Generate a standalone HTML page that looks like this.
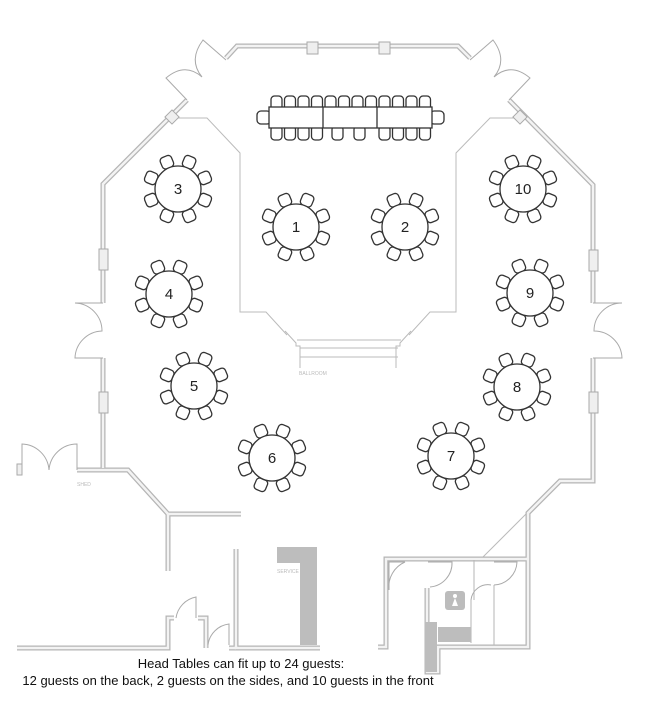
<!DOCTYPE html>
<html><head><meta charset="utf-8"><style>
html,body{margin:0;padding:0;background:#fff;}
svg{display:block;}
text{font-family:"Liberation Sans",sans-serif;}
</style></head><body>
<svg width="653" height="708" viewBox="0 0 653 708" xmlns="http://www.w3.org/2000/svg">
<defs>
<g id="tb">
  <g fill="#fff" stroke="#333" stroke-width="1.3">
    <rect x="-6" y="-35" width="12" height="12" rx="3.5" transform="rotate(22.5)"/>
    <rect x="-6" y="-35" width="12" height="12" rx="3.5" transform="rotate(67.5)"/>
    <rect x="-6" y="-35" width="12" height="12" rx="3.5" transform="rotate(112.5)"/>
    <rect x="-6" y="-35" width="12" height="12" rx="3.5" transform="rotate(157.5)"/>
    <rect x="-6" y="-35" width="12" height="12" rx="3.5" transform="rotate(202.5)"/>
    <rect x="-6" y="-35" width="12" height="12" rx="3.5" transform="rotate(247.5)"/>
    <rect x="-6" y="-35" width="12" height="12" rx="3.5" transform="rotate(292.5)"/>
    <rect x="-6" y="-35" width="12" height="12" rx="3.5" transform="rotate(337.5)"/>
  </g>
  <circle r="23" fill="#fff" stroke="#333" stroke-width="1.3"/>
</g>
<rect id="ch" x="0" y="0" width="11" height="14" rx="3.5" fill="#fff" stroke="#333" stroke-width="1.3"/>
</defs>

<!-- inner ballroom thin lines -->
<g fill="none" stroke="#bbb" stroke-width="1">
  <polyline points="178,118 207,118 240,153 240,312 266,312 287,335"/>
  <polyline points="517,118 490,118 456,153 456,312 430,312 409,335"/>
  <line x1="297" y1="340" x2="401" y2="340"/>
  <line x1="300" y1="348" x2="398" y2="348"/>
  <line x1="300" y1="357" x2="398" y2="357"/>
  <polyline points="285,331 296,343 296,346 300,346 300,368"/>
  <polyline points="411,331 400,343 400,346 396,346 396,368"/>
  <line x1="527" y1="513" x2="483" y2="557"/>
</g>

<!-- walls: double lines -->
<g fill="none" stroke-linejoin="miter">
  <g stroke="#b5b5b5" stroke-width="5">
    <polyline points="226,58 237,46 458,46 470,58"/>
    <polyline points="187,100 103,184 103,303"/>
    <polyline points="103,358 103,468"/>
    <polyline points="77,470 128,470 168,514 241,514"/>
    <polyline points="168,514 168,571"/>
    <polyline points="509,100 593,185 593,303"/>
    <polyline points="593,358 593,481 560,481 528,513 528,647 438,647 438,672 427,672 427,588"/>
    <polyline points="428,559 528,559"/>
    <polyline points="378,647 386,647 386,559 428,559"/>
    <polyline points="17,648 168,648 168,618 174,618"/>
    <polyline points="198,618 206,618 206,648"/>
    <polyline points="236,549 236,648 320,648"/>
    <polyline points="229,648 236,648"/>
  </g>
  <g stroke="#f3f3f3" stroke-width="2.5">
    <polyline points="226,58 237,46 458,46 470,58"/>
    <polyline points="187,100 103,184 103,303"/>
    <polyline points="103,358 103,468"/>
    <polyline points="77,470 128,470 168,514 241,514"/>
    <polyline points="168,514 168,571"/>
    <polyline points="509,100 593,185 593,303"/>
    <polyline points="593,358 593,481 560,481 528,513 528,647 438,647 438,672 427,672 427,588"/>
    <polyline points="428,559 528,559"/>
    <polyline points="378,647 386,647 386,559 428,559"/>
    <polyline points="17,648 168,648 168,618 174,618"/>
    <polyline points="198,618 206,618 206,648"/>
    <polyline points="236,549 236,648 320,648"/>
    <polyline points="229,648 236,648"/>
  </g>
  <g stroke="#b5b5b5" stroke-width="1">
    <line x1="494" y1="585" x2="494" y2="645"/>
    <line x1="471" y1="643" x2="471" y2="600"/>
    <line x1="474" y1="560" x2="474" y2="600"/>
  </g>
</g>

<!-- pillars -->
<g fill="#efefef" stroke="#aaa" stroke-width="1">
  <rect x="307" y="42" width="11" height="12"/>
  <rect x="379" y="42" width="11" height="12"/>
  <rect x="99" y="249" width="9" height="21"/>
  <rect x="99" y="392" width="9" height="21"/>
  <rect x="589" y="250" width="9" height="21"/>
  <rect x="589" y="392" width="9" height="21"/>
  <rect x="167" y="112" width="10" height="10" transform="rotate(45 172 117)"/>
  <rect x="515" y="112" width="10" height="10" transform="rotate(45 520 117)"/>
  <rect x="17" y="464" width="5" height="11"/>
</g>

<!-- door arcs -->
<g fill="none" stroke="#aaa" stroke-width="1">
  <path d="M226,60 L203,40 Q188,60 202,77 Q185,62 166,78 L187,100"/>
  <path d="M470,60 L493,40 Q508,60 494,77 Q511,62 530,78 L509,100"/>
  <path d="M103,303 L75,303 A28,28 0 0 1 102,331 A28,28 0 0 0 75,358 L103,358"/>
  <path d="M593,303 L622,303 A28,28 0 0 0 594,331 A28,28 0 0 1 622,358 L593,358"/>
  <path d="M22,470 L22,444 A28,28 0 0 1 49,470 A28,28 0 0 1 77,444 L77,470"/>
  <path d="M176,618 A25,25 0 0 1 196,597 L196,618"/>
  <path d="M208,645 A24,24 0 0 1 229,624 L229,645"/>
  <path d="M389,562 L405,562 A27,27 0 0 0 389,590 Z"/>
  <path d="M428,562 L452,562 A24,24 0 0 1 430,587"/>
  <path d="M494,562 L517,562 A24,24 0 0 1 494,585"/>
  <path d="M471,600 A17,17 0 0 1 491,585"/>
</g>

<!-- service / gray blocks -->
<g fill="#bdbdbd">
  <path d="M277,547 H317 V645 H300 V563 H277 Z"/>
  <rect x="425" y="622" width="12" height="50"/>
  <rect x="438" y="627" width="33" height="15"/>
</g>
<rect x="445" y="591" width="20" height="19" rx="3" fill="#bcbcbc"/>
<circle cx="455" cy="596" r="2" fill="#fff"/>
<path d="M455,598 L452,606 H458 Z" fill="#fff"/>

<!-- labels -->
<g fill="#bbb" font-size="5">
  <text x="299" y="375">BALLROOM</text>
  <text x="77" y="486">SHED</text>
  <text x="277" y="573">SERVICE</text>
</g>

<!-- head table -->
<g>
  <use href="#ch" x="271" y="96"/><use href="#ch" x="284.5" y="96"/><use href="#ch" x="298" y="96"/><use href="#ch" x="311.5" y="96"/>
  <use href="#ch" x="325" y="96"/><use href="#ch" x="338.5" y="96"/><use href="#ch" x="352" y="96"/><use href="#ch" x="365.5" y="96"/>
  <use href="#ch" x="379" y="96"/><use href="#ch" x="392.5" y="96"/><use href="#ch" x="406" y="96"/><use href="#ch" x="419.5" y="96"/>
  <use href="#ch" x="271" y="126"/><use href="#ch" x="284.5" y="126"/><use href="#ch" x="298" y="126"/><use href="#ch" x="311.5" y="126"/>
  <use href="#ch" x="332" y="126"/><use href="#ch" x="354" y="126"/>
  <use href="#ch" x="379" y="126"/><use href="#ch" x="392.5" y="126"/><use href="#ch" x="406" y="126"/><use href="#ch" x="419.5" y="126"/>
  <rect x="257" y="111" width="14" height="13" rx="4" fill="#fff" stroke="#333" stroke-width="1.3"/>
  <rect x="430" y="111" width="14" height="13" rx="4" fill="#fff" stroke="#333" stroke-width="1.3"/>
  <rect x="269" y="107" width="163" height="21" fill="#fff" stroke="#333" stroke-width="1.3"/>
  <line x1="323" y1="107" x2="323" y2="128" stroke="#333" stroke-width="1.3"/>
  <line x1="377" y1="107" x2="377" y2="128" stroke="#333" stroke-width="1.3"/>
</g>

<!-- round tables -->
<use href="#tb" x="296" y="227"/>
<use href="#tb" x="405" y="227"/>
<use href="#tb" x="178" y="189"/>
<use href="#tb" x="169" y="294"/>
<use href="#tb" x="194" y="386"/>
<use href="#tb" x="272" y="458"/>
<use href="#tb" x="451" y="456"/>
<use href="#tb" x="517" y="387"/>
<use href="#tb" x="530" y="293"/>
<use href="#tb" x="523" y="189"/>
<g font-size="15" fill="#222" text-anchor="middle">
  <text x="296" y="232">1</text>
  <text x="405" y="232">2</text>
  <text x="178" y="194">3</text>
  <text x="169" y="299">4</text>
  <text x="194" y="391">5</text>
  <text x="272" y="463">6</text>
  <text x="451" y="461">7</text>
  <text x="517" y="392">8</text>
  <text x="530" y="298">9</text>
  <text x="523" y="194">10</text>
</g>

<g font-size="13" fill="#111" text-anchor="middle">
  <text x="241" y="668">Head Tables can fit up to 24 guests:</text>
  <text x="228" y="685">12 guests on the back, 2 guests on the sides, and 10 guests in the front</text>
</g>
</svg>
</body></html>
